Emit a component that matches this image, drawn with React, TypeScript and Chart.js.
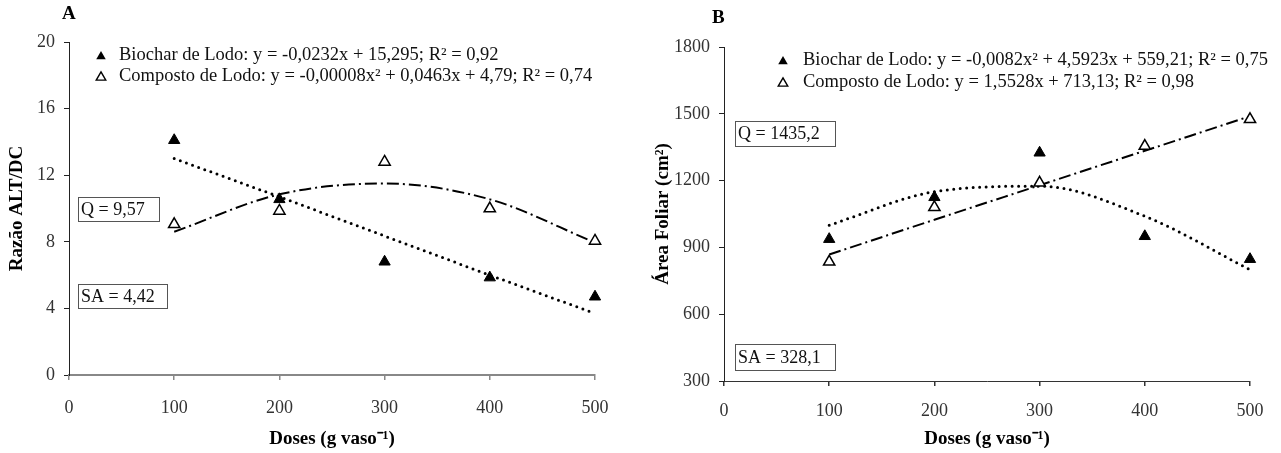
import React, { useEffect, useRef } from 'react';
import { Chart, registerables } from 'chart.js';

Chart.register(...registerables);

// ---------- data ----------
const doses = [100, 200, 300, 400, 500];

const razaoBiochar = [14.1, 10.55, 6.8, 5.85, 4.7];
const razaoComposto = [9.05, 9.85, 12.8, 10.0, 8.05];
const razaoBiocharTrend = [13.0, 10.7, 8.35, 6.0, 3.7];
const razaoCompostoTrend = [8.6, 10.85, 11.5, 10.55, 7.95];

const areaBiochar = [937, 1125, 1325, 950, 847];
const areaComposto = [835, 1080, 1190, 1355, 1475];
const areaBiocharTrend = [1000, 1150, 1175, 1040, 800];
const areaCompostoTrend = [868, 1024, 1179, 1334, 1489];

const legendA = [
  'Biochar de Lodo: y = -0,0232x + 15,295; R² = 0,92',
  'Composto de Lodo: y = -0,00008x² + 0,0463x + 4,79; R² = 0,74',
];
const legendB = [
  'Biochar de Lodo: y = -0,0082x² + 4,5923x + 559,21; R² = 0,75',
  'Composto de Lodo: y = 1,5528x + 713,13; R² = 0,98',
];
const boxesA = ['Q = 9,57', 'SA = 4,42'];
const boxesB = ['Q = 1435,2', 'SA = 328,1'];

const SERIF = '"Liberation Serif", "Times New Roman", serif';

function pts(xs: number[], ys: number[]) {
  return xs.map((x, i) => ({ x, y: ys[i] }));
}

function drawTri(ctx: CanvasRenderingContext2D, x: number, y: number, r: number, filled: boolean) {
  ctx.beginPath();
  for (let k = 0; k < 3; k++) {
    const a = (k * 2 * Math.PI) / 3;
    const px = x + Math.sin(a) * r;
    const py = y - Math.cos(a) * r + r * 0.25;
    if (k === 0) ctx.moveTo(px, py);
    else ctx.lineTo(px, py);
  }
  ctx.closePath();
  if (filled) {
    ctx.fillStyle = '#000';
    ctx.fill();
  } else {
    ctx.fillStyle = '#fff';
    ctx.fill();
    ctx.strokeStyle = '#000';
    ctx.lineWidth = 1.4;
    ctx.stroke();
  }
}

const annotPlugin = {
  id: 'annot',
  afterDraw(chart: any, _args: any, opts: any) {
    const ctx: CanvasRenderingContext2D = chart.ctx;
    ctx.save();
    ctx.textBaseline = 'middle';
    ctx.textAlign = 'left';
    ctx.font = `bold 19px ${SERIF}`;
    ctx.fillStyle = '#000';
    ctx.fillText(opts.panel, opts.panelX, opts.panelY);

    ctx.font = `${opts.legendFont}px ${SERIF}`;
    opts.legend.forEach((text: string, i: number) => {
      const y = opts.legendY + i * opts.legendGap;
      drawTri(ctx, opts.legendX, y, 5.5, i === 0);
      ctx.fillStyle = '#111';
      ctx.fillText(text, opts.legendX + opts.legendTextOffset, y);
    });

    opts.boxes.forEach((b: any) => {
      ctx.fillStyle = '#fff';
      ctx.fillRect(b.x, b.y, b.w, b.h);
      ctx.strokeStyle = '#555';
      ctx.lineWidth = 1;
      ctx.strokeRect(b.x + 0.5, b.y + 0.5, b.w, b.h);
      ctx.fillStyle = '#111';
      ctx.font = `18px ${SERIF}`;
      ctx.fillText(b.text, b.x + 3, b.y + b.h / 2 + 1);
    });
    ctx.restore();
  },
};

function makeConfig(p: any) {
  const tickFont = { family: SERIF, size: 18 };
  const titleFont = { family: SERIF, size: 19, weight: 'bold' as const };
  return {
    type: 'scatter',
    data: {
      datasets: [
        {
          label: 'Biochar',
          data: pts(doses, p.biochar),
          pointStyle: 'triangle',
          pointRadius: 6.5,
          pointBackgroundColor: '#000',
          pointBorderColor: '#000',
          pointBorderWidth: 1,
          showLine: false,
          clip: false,
        },
        {
          label: 'Composto',
          data: pts(doses, p.composto),
          pointStyle: 'triangle',
          pointRadius: 6.5,
          pointBackgroundColor: '#fff',
          pointBorderColor: '#000',
          pointBorderWidth: 1.5,
          showLine: false,
          clip: false,
        },
        {
          label: 'Biochar trend',
          data: pts(doses, p.biocharTrend),
          showLine: true,
          pointRadius: 0,
          borderColor: '#000',
          borderWidth: 3,
          borderDash: [0, 6.5],
          borderCapStyle: 'round',
          cubicInterpolationMode: 'monotone',
          fill: false,
          clip: false,
        },
        {
          label: 'Composto trend',
          data: pts(doses, p.compostoTrend),
          showLine: true,
          pointRadius: 0,
          borderColor: '#000',
          borderWidth: 2,
          borderDash: [12, 4, 2, 4],
          cubicInterpolationMode: 'monotone',
          fill: false,
          clip: false,
        },
      ],
    },
    options: {
      animation: false,
      responsive: false,
      events: [],
      layout: { padding: p.padding },
      plugins: {
        legend: { display: false },
        tooltip: { enabled: false },
        annot: p.annot,
      },
      scales: {
        x: {
          type: 'linear',
          min: 0,
          max: 500,
          ticks: {
            stepSize: 100,
            font: tickFont,
            color: '#333',
            padding: p.xTickPad,
            maxRotation: 0,
            callback: (v: any) => String(v),
          },
          grid: { display: true, drawOnChartArea: false, drawTicks: true, tickLength: 5, color: p.xAxisColor, lineWidth: 1.5 },
          border: { display: true, color: p.xAxisColor, width: p.xAxisWidth },
          title: { display: true, text: 'Doses (g vaso⁻¹)', font: titleFont, color: '#000', padding: { top: 0, bottom: 3 } },
          afterFit: (s: any) => {
            s.height = p.xHeight;
          },
        },
        y: {
          type: 'linear',
          min: p.yMin,
          max: p.yMax,
          ticks: { stepSize: p.yStep, font: tickFont, color: '#333', padding: 9, callback: (v: any) => String(v) },
          grid: { display: true, drawOnChartArea: false, drawTicks: true, tickLength: 5, color: '#222', lineWidth: 1 },
          border: { display: true, color: '#222', width: 1 },
          title: { display: true, text: p.yTitle, font: titleFont, color: '#000', padding: { top: p.yTitlePad, bottom: 0 } },
          afterFit: (s: any) => {
            s.width = p.yWidth;
          },
        },
      },
    },
    plugins: [annotPlugin],
  };
}

const configA = {
  biochar: razaoBiochar,
  composto: razaoComposto,
  biocharTrend: razaoBiocharTrend,
  compostoTrend: razaoCompostoTrend,
  yMin: 0,
  yMax: 20,
  yStep: 4,
  yTitle: 'Razão ALT/DC',
  yTitlePad: 6,
  yWidth: 69,
  xHeight: 78,
  xTickPad: 17,
  xAxisColor: '#888',
  xAxisWidth: 2,
  padding: { left: 0, right: 45, top: 42, bottom: 0 },
  annot: {
    panel: 'A',
    panelX: 62,
    panelY: 14,
    legendX: 101,
    legendTextOffset: 18,
    legendY: 55,
    legendGap: 21,
    legendFont: 18.5,
    legend: legendA,
    boxes: [
      { text: boxesA[0], x: 78, y: 197, w: 81, h: 24 },
      { text: boxesA[1], x: 78, y: 284, w: 89, h: 24 },
    ],
  },
};

const configB = {
  biochar: areaBiochar,
  composto: areaComposto,
  biocharTrend: areaBiocharTrend,
  compostoTrend: areaCompostoTrend,
  yMin: 300,
  yMax: 1800,
  yStep: 300,
  yTitle: 'Área Foliar (cm²)',
  yTitlePad: 12,
  yWidth: 84,
  xHeight: 72,
  xTickPad: 14,
  xAxisColor: '#333',
  xAxisWidth: 1,
  padding: { left: 0, right: 31, top: 47, bottom: 0 },
  annot: {
    panel: 'B',
    panelX: 72,
    panelY: 18,
    legendX: 143,
    legendTextOffset: 20,
    legendY: 60,
    legendGap: 22,
    legendFont: 18.5,
    legend: legendB,
    boxes: [
      { text: boxesB[0], x: 95, y: 121, w: 100, h: 25 },
      { text: boxesB[1], x: 95, y: 344, w: 100, h: 26 },
    ],
  },
};

function Panel({ cfg, left, width }: { cfg: any; left: number; width: number }) {
  const ref = useRef<HTMLCanvasElement | null>(null);
  useEffect(() => {
    if (!ref.current) return;
    const chart = new Chart(ref.current, makeConfig(cfg) as any);
    return () => chart.destroy();
  }, [cfg]);
  return (
    <canvas
      ref={ref}
      width={width}
      height={453}
      style={{ position: 'absolute', left, top: 0, width, height: 453 }}
    />
  );
}

export default function App() {
  return (
    <div style={{ position: 'fixed', left: 0, top: 0, width: 1281, height: 453, background: '#fff', overflow: 'hidden' }}>
      <Panel cfg={configA} left={0} width={640} />
      <Panel cfg={configB} left={640} width={641} />
    </div>
  );
}
